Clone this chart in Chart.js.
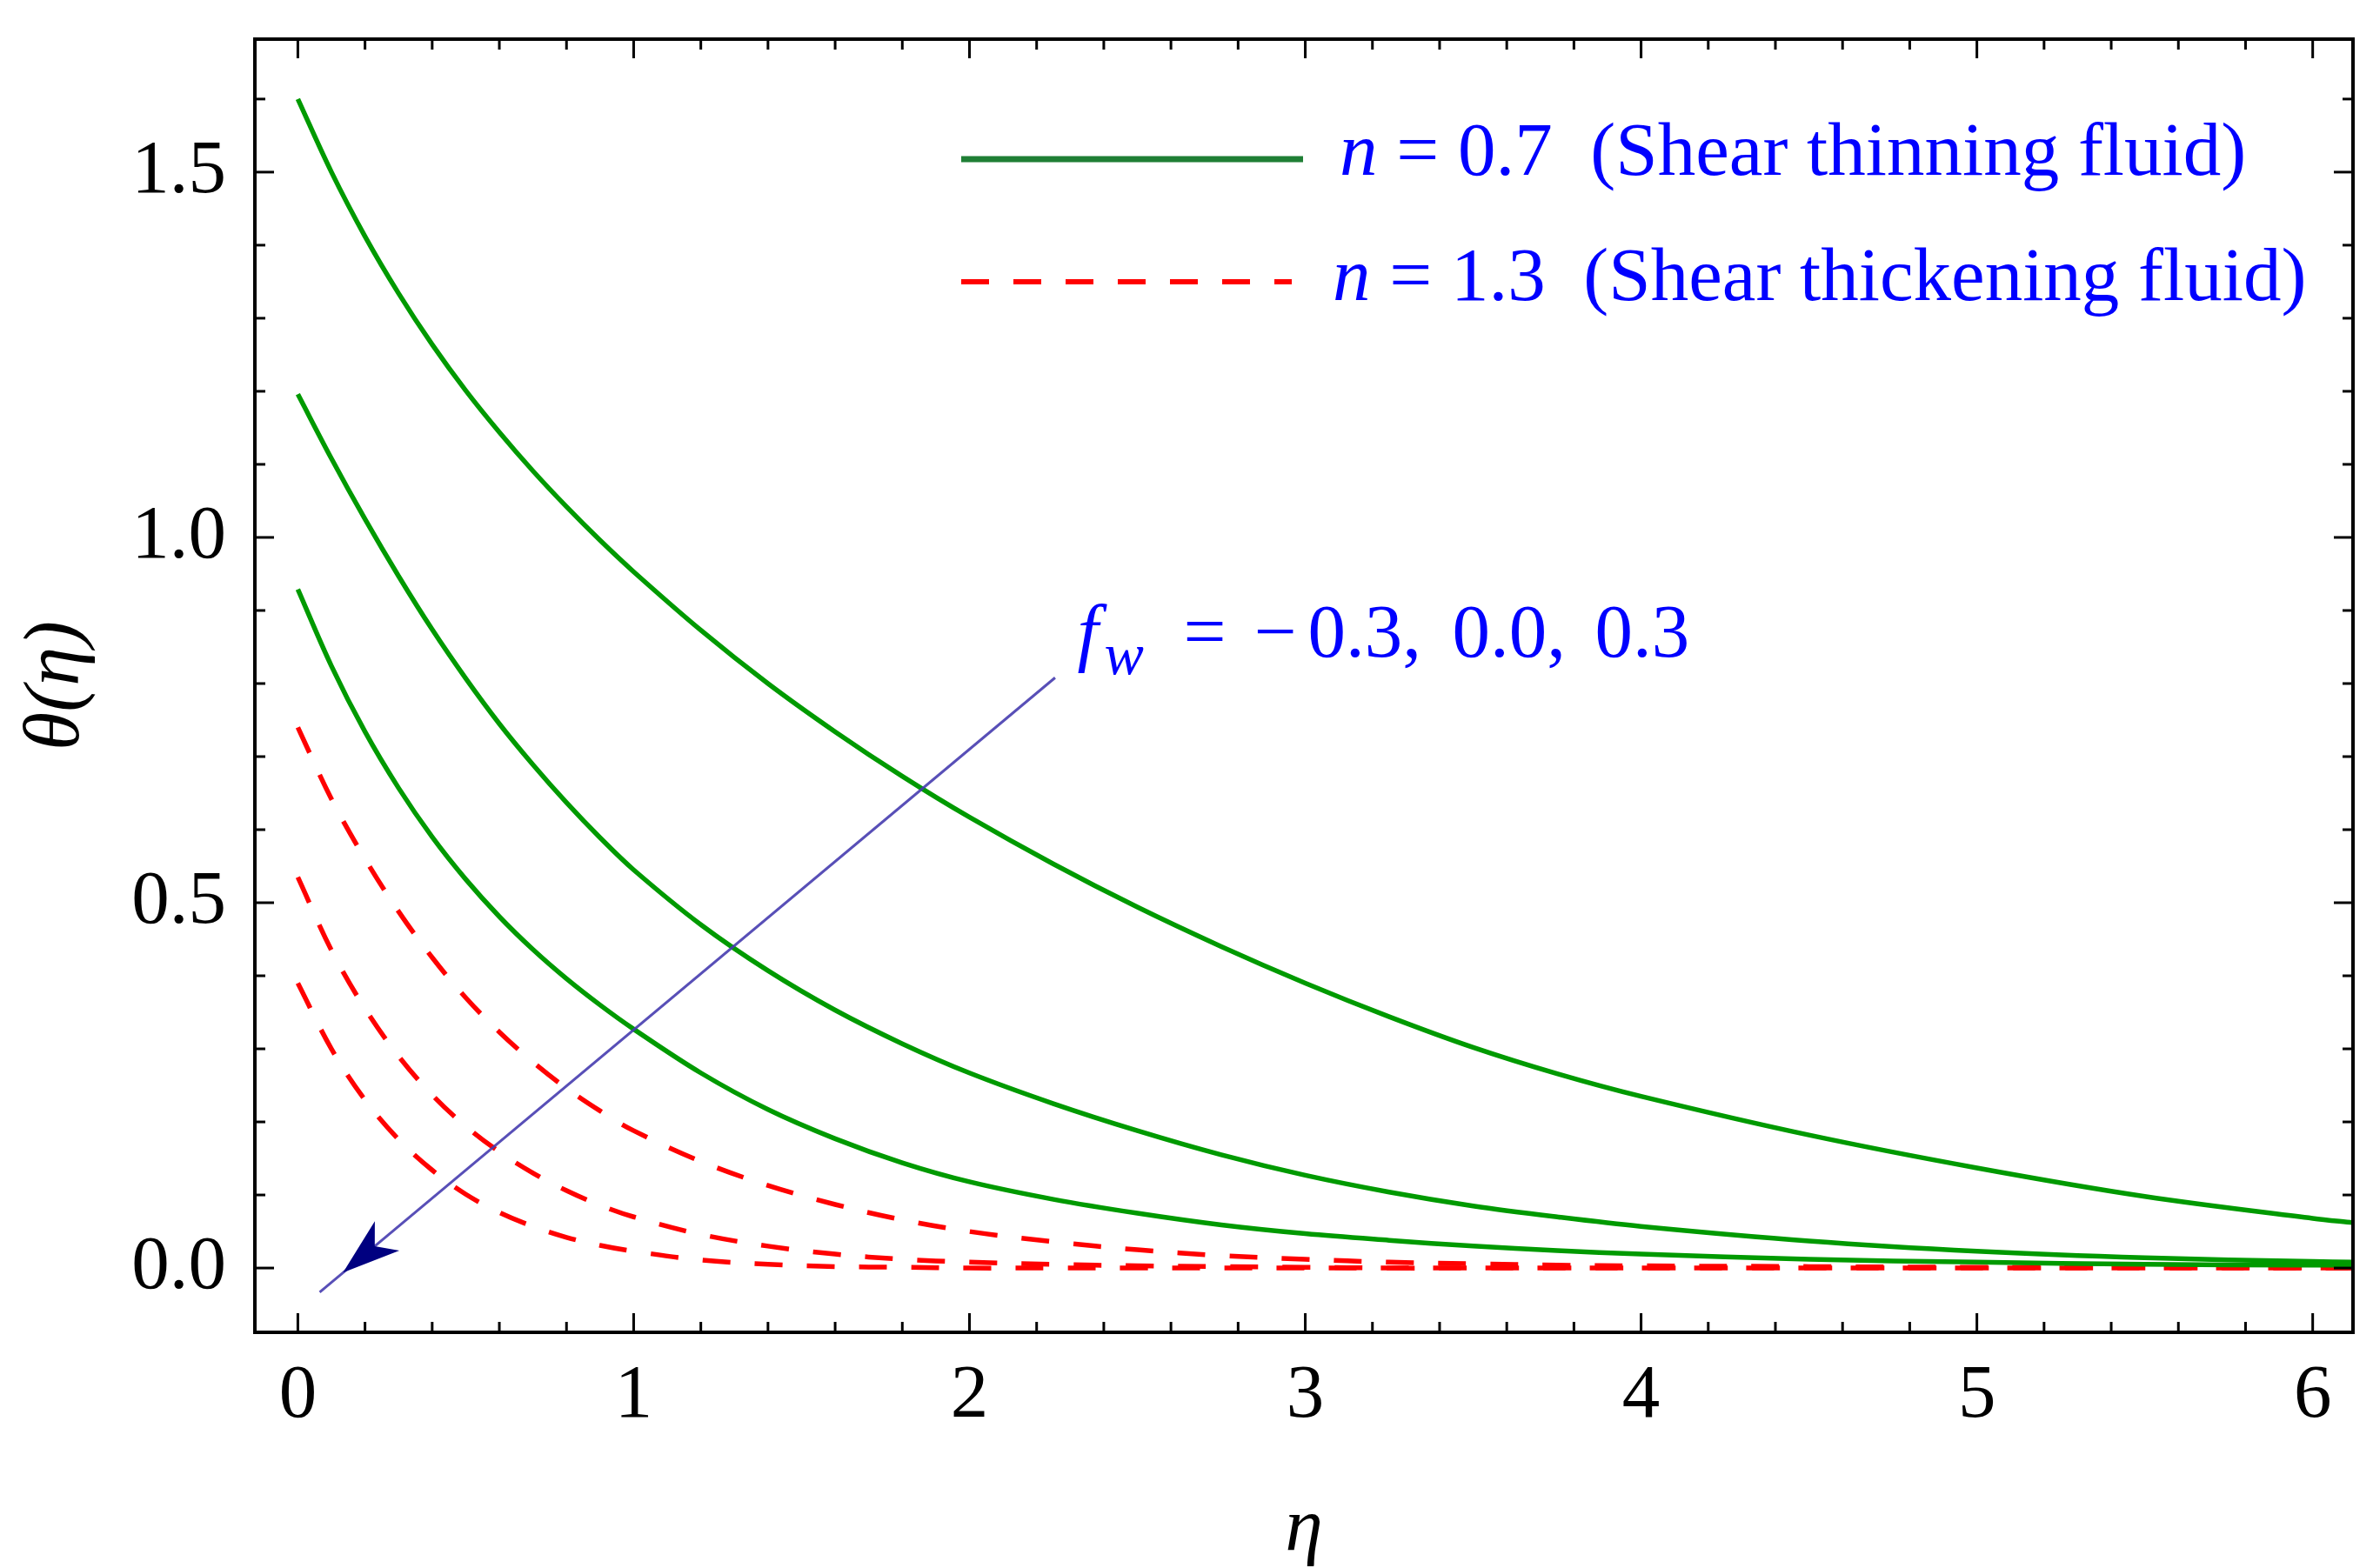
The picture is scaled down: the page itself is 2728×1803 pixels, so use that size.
<!DOCTYPE html>
<html>
<head>
<meta charset="utf-8">
<script src="https://cdn.jsdelivr.net/npm/chart.js@4/dist/chart.umd.min.js"></script>
<style>
  html, body { margin: 0; background: #fff; }
  #wrap { width: 2728px; height: 1803px; }
</style>
</head>
<body>
<div id="wrap"><canvas id="chart"></canvas></div>
<script>
// eta grid
const eta = [0, 0.1, 0.2, 0.3, 0.4, 0.5, 0.6, 0.7, 0.8, 0.9, 1.0, 1.2, 1.4, 1.6, 1.8, 2.0,
             2.25, 2.5, 2.75, 3.0, 3.25, 3.5, 3.75, 4.0, 4.5, 5.0, 5.5, 6.0, 6.12];

// n = 0.7 (shear thinning), fw = -0.3 / 0.0 / 0.3
const thinM03 = [1.600, 1.500, 1.412, 1.334, 1.264, 1.201, 1.144, 1.091, 1.042, 0.996, 0.953, 0.873, 0.800, 0.734, 0.673, 0.617,
                 0.553, 0.494, 0.440, 0.390, 0.344, 0.302, 0.266, 0.235, 0.182, 0.137, 0.098, 0.068, 0.062];
const thin00  = [1.196, 1.108, 1.025, 0.947, 0.874, 0.807, 0.745, 0.689, 0.637, 0.589, 0.545, 0.470, 0.407, 0.353, 0.307, 0.267,
                 0.225, 0.188, 0.155, 0.127, 0.104, 0.085, 0.070, 0.057, 0.037, 0.023, 0.014, 0.009, 0.008];
const thinP03 = [0.929, 0.824, 0.734, 0.657, 0.590, 0.532, 0.481, 0.436, 0.396, 0.360, 0.327, 0.267, 0.217, 0.177, 0.144, 0.118,
                 0.094, 0.075, 0.059, 0.047, 0.038, 0.030, 0.024, 0.019, 0.012, 0.008, 0.005, 0.004, 0.004];

// n = 1.3 (shear thickening), fw = -0.3 / 0.0 / 0.3
const thickM03 = [0.740, 0.642, 0.560, 0.488, 0.425, 0.370, 0.323, 0.282, 0.246, 0.215, 0.188, 0.146, 0.113, 0.087, 0.066, 0.050,
                  0.036, 0.025, 0.017, 0.012, 0.008, 0.006, 0.004, 0.003, 0.002, 0.001, 0.001, 0.000, 0.000];
const thick00  = [0.535, 0.435, 0.355, 0.290, 0.237, 0.194, 0.159, 0.130, 0.106, 0.086, 0.070, 0.046, 0.030, 0.019, 0.012, 0.008,
                  0.005, 0.003, 0.002, 0.001, 0.000, 0.000, 0.000, 0.000, 0.000, 0.000, 0.000, 0.000, 0.000];
const thickP03 = [0.390, 0.300, 0.230, 0.176, 0.134, 0.101, 0.076, 0.057, 0.042, 0.031, 0.023, 0.011, 0.005, 0.002, 0.001, 0.000,
                  0.000, 0.000, 0.000, 0.000, 0.000, 0.000, 0.000, 0.000, 0.000, 0.000, 0.000, 0.000, 0.000];

const xTicks = [0, 1, 2, 3, 4, 5, 6];
const yTicks = [0.0, 0.5, 1.0, 1.5];

const legendN = ['0.7', '1.3'];
const legendText = ['(Shear thinning fluid)', '(Shear thickening fluid)'];
const fwLabels = ['0.3,', '0.0,', '0.3'];

// arrow across the curves, in data units
const arrowFrom = [2.255, 0.808];
const arrowTo = [0.065, -0.033];

const GREEN = '#009a00';
const RED = '#ff0000';
const BLUE = '#0000ff';
const SERIF = '"Liberation Serif", "Times New Roman", serif';

function pts(ys) {
  return eta.map((e, i) => ({ x: e, y: ys[i] }));
}

function line(ctx, x1, y1, x2, y2) {
  ctx.beginPath(); ctx.moveTo(x1, y1); ctx.lineTo(x2, y2); ctx.stroke();
}

// frame with inward ticks, legend, arrow and the fw note
const extras = {
  id: 'extras',
  afterDatasetsDraw(chart) {
    const { ctx, chartArea: a, scales: { x, y } } = chart;
    ctx.save();

    // arrow
    const x1 = x.getPixelForValue(arrowFrom[0]), y1 = y.getPixelForValue(arrowFrom[1]);
    const x2 = x.getPixelForValue(arrowTo[0]), y2 = y.getPixelForValue(arrowTo[1]);
    ctx.strokeStyle = 'rgba(70,60,175,0.9)';
    ctx.lineWidth = 3;
    line(ctx, x1, y1, x2, y2);
    const len = Math.hypot(x2 - x1, y2 - y1);
    const ux = (x2 - x1) / len, uy = (y2 - y1) / len;
    const tx = x2 - ux * 35, ty = y2 - uy * 35;
    const hl = 66, hw = 22;
    ctx.fillStyle = '#000080';
    ctx.beginPath();
    ctx.moveTo(tx, ty);
    ctx.lineTo(tx - ux * hl - uy * hw, ty - uy * hl + ux * hw);
    ctx.lineTo(tx - ux * hl * 0.72, ty - uy * hl * 0.72);
    ctx.lineTo(tx - ux * hl + uy * hw, ty - uy * hl - ux * hw);
    ctx.closePath();
    ctx.fill();

    // frame
    ctx.strokeStyle = '#000';
    ctx.lineWidth = 4;
    ctx.strokeRect(a.left, a.top, a.right - a.left, a.bottom - a.top);

    // ticks
    ctx.lineWidth = 3;
    for (let i = 0; i * 0.2 <= x.max; i++) {
      const px = x.getPixelForValue(i * 0.2);
      const l = i % 5 === 0 ? 22 : 12;
      line(ctx, px, a.bottom, px, a.bottom - l);
      line(ctx, px, a.top, px, a.top + l);
    }
    for (let i = 0; i * 0.1 <= y.max; i++) {
      const py = y.getPixelForValue(i * 0.1);
      const l = i % 5 === 0 ? 22 : 12;
      line(ctx, a.left, py, a.left + l, py);
      line(ctx, a.right, py, a.right - l, py);
    }

    // legend
    const lx0 = a.right - 1600, lx1 = a.right - 1207;
    ctx.strokeStyle = '#1f7f35';
    ctx.lineWidth = 7;
    line(ctx, lx0, a.top + 138, lx1, a.top + 138);
    ctx.strokeStyle = RED;
    ctx.lineWidth = 6;
    ctx.setLineDash([32, 28]);
    line(ctx, lx0, a.top + 279, lx1 - 13, a.top + 279);
    ctx.setLineDash([]);

    ctx.fillStyle = BLUE;
    ctx.textBaseline = 'alphabetic';
    const rows = [[a.right - 1165, a.top + 156], [a.right - 1173, a.top + 300]];
    rows.forEach(([tx0, by], i) => {
      ctx.font = 'italic 87px ' + SERIF;
      ctx.fillText('n', tx0, by);
      const w = ctx.measureText('n').width;
      ctx.font = '87px ' + SERIF;
      ctx.fillText(' = ' + legendN[i] + '  ' + legendText[i], tx0 + w, by);
    });

    // fw note
    const fx = x.getPixelForValue(2.321), fy = y.getPixelForValue(0.837);
    ctx.font = 'italic 87px ' + SERIF;
    ctx.fillText('f', fx, fy);
    ctx.font = 'italic 68px ' + SERIF;
    ctx.fillText('w', fx + 31, fy + 20);
    ctx.font = '87px ' + SERIF;
    ctx.fillText('=', fx + 122, fy);
    ctx.fillText('\u2212', fx + 203, fy);
    ctx.fillText(fwLabels[0], fx + 265, fy);
    ctx.fillText(fwLabels[1], fx + 431, fy);
    ctx.fillText(fwLabels[2], fx + 595, fy);

    ctx.restore();
  }
};

const lineSet = (label, ys, color, dash) => ({
  label, data: pts(ys), borderColor: color, borderWidth: 5.5,
  borderDash: dash || [], pointRadius: 0, fill: false, tension: 0.35
});

new Chart(document.getElementById('chart'), {
  type: 'line',
  data: {
    datasets: [
      lineSet('n = 0.7, fw = -0.3', thinM03, GREEN),
      lineSet('n = 0.7, fw = 0.0', thin00, GREEN),
      lineSet('n = 0.7, fw = 0.3', thinP03, GREEN),
      lineSet('n = 1.3, fw = -0.3', thickM03, RED, [32, 28]),
      lineSet('n = 1.3, fw = 0.0', thick00, RED, [32, 28]),
      lineSet('n = 1.3, fw = 0.3', thickP03, RED, [32, 28])
    ]
  },
  options: {
    responsive: true,
    maintainAspectRatio: false,
    devicePixelRatio: 1,
    animation: false,
    layout: { padding: { top: 45, right: 23, left: 0, bottom: 0 } },
    plugins: { legend: { display: false }, tooltip: { enabled: false } },
    scales: {
      x: {
        type: 'linear', min: -0.128, max: 6.12,
        grid: { display: false, drawTicks: false },
        border: { display: false },
        afterBuildTicks: s => { s.ticks = xTicks.map(v => ({ value: v })); },
        afterFit: s => { s.height = 271; s.paddingLeft = 0; s.paddingRight = 0; },
        ticks: {
          font: { family: SERIF, size: 87 }, color: '#000', padding: 22,
          maxRotation: 0, autoSkip: false, callback: v => String(v)
        },
        title: {
          display: true, text: '\u03b7', color: '#000',
          font: { family: SERIF, size: 87, style: 'italic', lineHeight: 1.0 },
          padding: { top: 0, bottom: 0 }
        }
      },
      y: {
        type: 'linear', min: -0.088, max: 1.682,
        grid: { display: false, drawTicks: false },
        border: { display: false },
        afterBuildTicks: s => { s.ticks = yTicks.map(v => ({ value: v })); },
        afterFit: s => { s.width = 293; s.paddingTop = 0; s.paddingBottom = 0; },
        ticks: {
          font: { family: SERIF, size: 87 }, color: '#000', padding: 33,
          autoSkip: false, callback: v => v.toFixed(1)
        },
        title: {
          display: true, text: '\u03b8(\u03b7)', color: '#000',
          font: { family: SERIF, size: 90, style: 'italic' },
          padding: { top: 12, bottom: 0 }
        }
      }
    }
  },
  plugins: [extras]
});
</script>
</body>
</html>
